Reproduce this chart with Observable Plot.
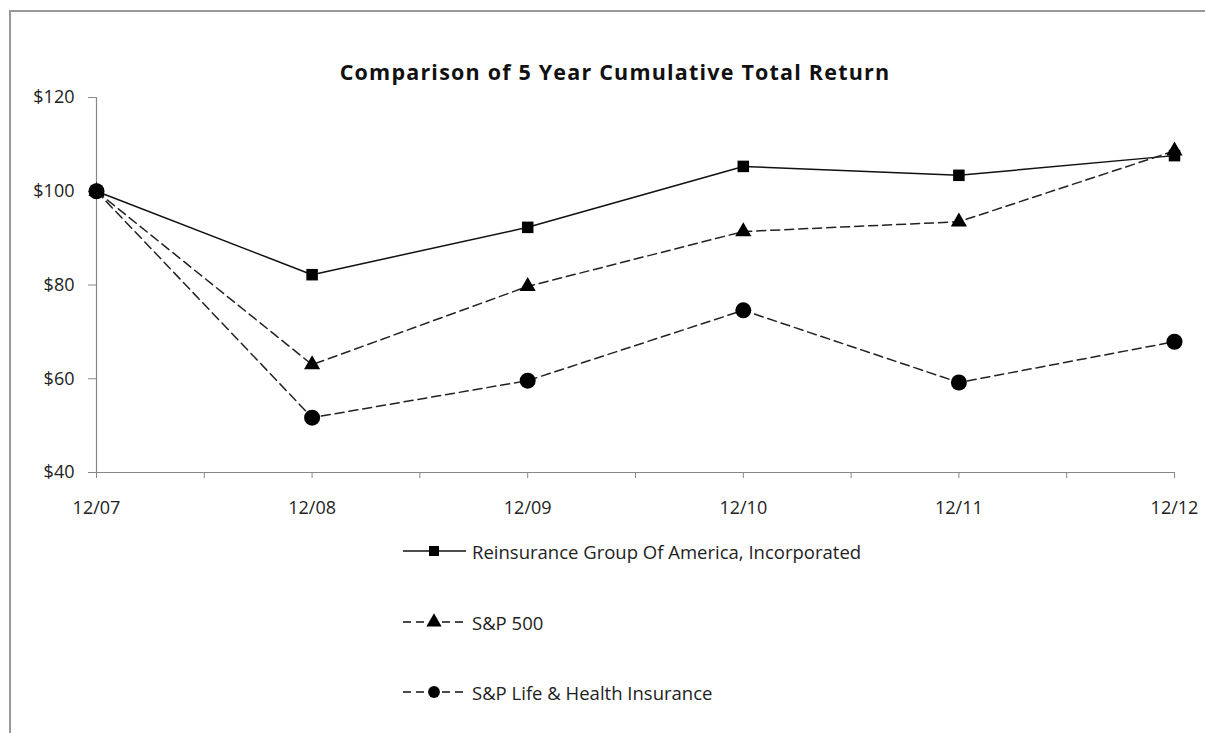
<!DOCTYPE html>
<html>
<head>
<meta charset="utf-8">
<script src="https://cdn.jsdelivr.net/npm/d3@7"></script>
<script src="https://cdn.jsdelivr.net/npm/@observablehq/plot@0.6"></script>
<style>
  html, body { margin: 0; padding: 0; background: #fff; font-family: "Open Sans", Lato, sans-serif; color: #222; }
  #frame { position: absolute; left: 9px; top: 10px; width: 1196px; height: 723px; border-left: 2px solid #999; border-top: 2px solid #999; box-sizing: border-box; }
  #title { position: absolute; left: 0; width: 1230px; top: 57px; text-align: center; font-weight: bold; font-size: 21.5px; letter-spacing: 1.2px; color: #111; }
  #chart { position: absolute; left: 0; top: 80px; }
  .leg { position: absolute; left: 403px; height: 24px; display: flex; align-items: center; font-size: 18.5px; color: #222; }
  .leg svg { margin-right: 5px; }
</style>
</head>
<body>
<div id="frame"></div>
<div id="title">Comparison of 5 Year Cumulative Total Return</div>
<div id="chart"></div>
<div id="legend"></div>
<script>
const periods = ["12/07", "12/08", "12/09", "12/10", "12/11", "12/12"];
const seriesNames = ["Reinsurance Group Of America, Incorporated", "S&P 500", "S&P Life & Health Insurance"];
const rga = [100, 82.2, 92.3, 105.3, 103.4, 107.6];
const sp500 = [100, 63.0, 79.7, 91.4, 93.5, 108.6];
const spLife = [100, 51.7, 59.6, 74.6, 59.2, 67.9];
const yTicks = [40, 60, 80, 100, 120];

const toRows = (name, vals) => vals.map((v, i) => ({series: name, i, v}));
const rowsRga = toRows(seriesNames[0], rga);
const rowsSp = toRows(seriesNames[1], sp500);
const rowsLife = toRows(seriesNames[2], spLife);
const xTicks = d3.range(0, periods.length - 0.5 + 0.01, 0.5);

const chart = Plot.plot({
  width: 1205,
  height: 442,
  marginLeft: 96,
  marginRight: 31,
  marginTop: 17,
  marginBottom: 50,
  style: {fontFamily: "'Open Sans', Lato, sans-serif", background: "transparent", overflow: "visible"},
  x: {domain: [0, periods.length - 1]},
  y: {domain: [40, 120]},
  marks: [
    Plot.axisY({ticks: yTicks, tickFormat: d => "$" + d, tickSize: 8, tickPadding: 14, fontSize: 18, stroke: "#888", fill: "#222", label: null}),
    Plot.axisX({ticks: xTicks, tickFormat: d => Number.isInteger(d) ? periods[d] : "", tickSize: 6, tickPadding: 23, fontSize: 18, stroke: "#888", fill: "#222", label: null}),
    Plot.ruleX([0], {stroke: "#888", strokeWidth: 1.2}),
    Plot.ruleY([40], {stroke: "#888", strokeWidth: 1.2}),
    Plot.line(rowsRga, {x: "i", y: "v", stroke: "#111", strokeWidth: 1.5}),
    Plot.line(rowsSp, {x: "i", y: "v", stroke: "#222", strokeWidth: 1.5, strokeDasharray: "9,5"}),
    Plot.line(rowsLife, {x: "i", y: "v", stroke: "#222", strokeWidth: 1.5, strokeDasharray: "9,5"}),
    Plot.dot(rowsRga, {x: "i", y: "v", symbol: "square", r: 6.5, fill: "#000", stroke: "none"}),
    Plot.dot(rowsSp, {x: "i", y: "v", symbol: "triangle", r: 6, fill: "#000", stroke: "none"}),
    Plot.dot(rowsLife, {x: "i", y: "v", symbol: "circle", r: 8, fill: "#000", stroke: "none"})
  ]
});
document.getElementById("chart").appendChild(chart);

// legend
const legendTops = [539, 610, 680];
const dashes = [null, "8,5", "8,5"];
const legend = document.getElementById("legend");
seriesNames.forEach((name, k) => {
  const div = document.createElement("div");
  div.className = "leg";
  div.style.top = legendTops[k] + "px";
  const svg = d3.create("svg").attr("width", 64).attr("height", 24);
  svg.append("line").attr("x1", 0).attr("x2", 63).attr("y1", 12).attr("y2", 12)
    .attr("stroke", "#111").attr("stroke-width", 1.5).attr("stroke-dasharray", dashes[k]);
  const sym = d3.symbol(k === 0 ? d3.symbolSquare : k === 1 ? d3.symbolTriangle : d3.symbolCircle, k === 2 ? 110 : 100);
  svg.append("path").attr("d", sym()).attr("transform", "translate(31,12)").attr("fill", "#000");
  div.appendChild(svg.node());
  const span = document.createElement("span");
  span.textContent = name;
  div.appendChild(span);
  legend.appendChild(div);
});
</script>
</body>
</html>
